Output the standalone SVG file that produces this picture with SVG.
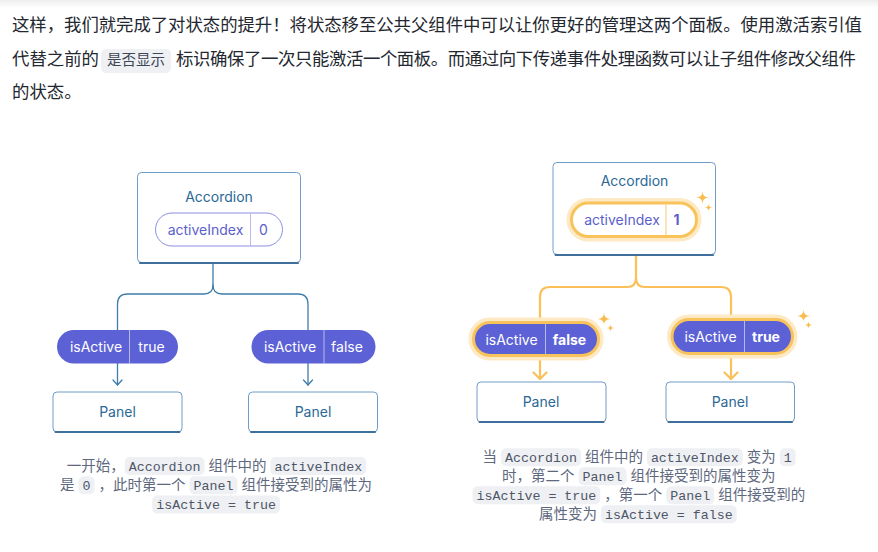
<svg xmlns="http://www.w3.org/2000/svg" width="878" height="552" viewBox="0 0 878 552">
<defs>
  <linearGradient id="topShade" x1="0" y1="0" x2="0" y2="1">
    <stop offset="0" stop-color="#000" stop-opacity="0.07"/>
    <stop offset="1" stop-color="#000" stop-opacity="0"/>
  </linearGradient>
  <path id="spark" d="M0,-1 Q0,0 1,0 Q0,0 0,1 Q0,0 -1,0 Q0,0 0,-1 Z"/>
  <style>
    .para{font-family:"Noto Sans CJK SC","Noto Sans",sans-serif;font-size:17.4px;fill:#23272f}
    .pcode{font-family:"Liberation Mono","Noto Sans CJK SC",monospace;font-size:14.5px;fill:#404756}
    .cap{font-family:"Noto Sans CJK SC","Noto Sans",sans-serif;font-size:14.5px;fill:#5e687e}
    .code{font-family:"Liberation Mono","Noto Sans CJK SC",monospace;font-size:13.3px;fill:#4e5668}
    .cbg{fill:#eef0f3}
    .box{fill:#fff;stroke:#6e9cc8;stroke-width:1}
    .boxb{fill:none;stroke:#3f6f9c;stroke-width:2;stroke-linecap:round}
    .title{font-family:Inter,"Noto Sans",sans-serif;font-size:14px;fill:#2a6896;text-anchor:middle}
    .pillw{fill:#fff;stroke:#8b8fe4;stroke-width:1}
    .ptxt{font-family:Inter,"Noto Sans",sans-serif;font-size:14px;fill:#5b5fcc;text-anchor:middle}
    .pillf{fill:#5c62d6}
    .wtxt{font-family:Inter,"Noto Sans",sans-serif;font-size:14px;fill:#fff;text-anchor:middle}
    .div{stroke:#fff;stroke-opacity:0.55;stroke-width:1}
    .divp{stroke:#b9bbf0;stroke-width:1}
    .divo{stroke:#fbd08a;stroke-width:1.2}
    .glow{fill:none;stroke:#fde9c4;stroke-width:10}
    .ring{stroke:#f9c35c;stroke-width:3}
    .blue{fill:none;stroke:#3d7dab;stroke-width:1.3;stroke-linecap:round;stroke-linejoin:round}
    .orng{fill:none;stroke:#fbc05a;stroke-width:2.2;stroke-linecap:round;stroke-linejoin:round}
    .spark{fill:#f9bd4f}
  </style>
</defs>
<rect x="0" y="0" width="878" height="552" fill="#fff"/>
<rect x="0" y="0" width="878" height="8" fill="url(#topShade)"/>

<!-- paragraph -->
<g id="paragraph">
  <text class="para" x="12" y="31" textLength="850" lengthAdjust="spacing">这样，我们就完成了对状态的提升！将状态移至公共父组件中可以让你更好的管理这两个面板。使用激活索引值</text>
  <text class="para" x="12" y="65">代替之前的</text>
  <rect class="cbg" x="101" y="49" width="70" height="24" rx="5" fill="#f2f3f5"/>
  <text class="pcode" x="107" y="65">是否显示</text>
  <text class="para" x="176" y="65" textLength="680" lengthAdjust="spacing">标识确保了一次只能激活一个面板。而通过向下传递事件处理函数可以让子组件修改父组件</text>
  <text class="para" x="12" y="98">的状态。</text>
</g>

<!-- connectors -->
<g id="connectors">
  <path class="blue" d="M213,264 V285 Q213,294 204,294 H127.5 Q117.5,294 117.5,304 V385"/>
  <path class="blue" d="M213,285 Q213,294 222,294 H298 Q308,294 308,304 V385"/>
  <path class="blue" d="M113,380 L117.5,385 L122,380"/>
  <path class="blue" d="M303.5,380 L308,385 L312.5,380"/>
  <path class="orng" d="M636,256 V278 Q636,287 627,287 H550 Q540,287 540,297 V379"/>
  <path class="orng" d="M636,278 Q636,287 645,287 H721 Q731,287 731,297 V379"/>
  <path class="orng" d="M533.5,372.5 L540,379 L546.5,372.5"/>
  <path class="orng" d="M724.5,372.5 L731,379 L737.5,372.5"/>
</g>

<!-- left diagram -->
<g id="accordion-left">
  <rect class="box" x="137.5" y="172.5" width="163" height="90" rx="4"/>
  <path class="boxb" d="M140,263 H298"/>
  <text class="title" x="219" y="202">Accordion</text>
  <g id="activeIndex-left">
    <rect class="pillw" x="155.5" y="213" width="127" height="33" rx="16.5"/>
    <line class="divp" x1="250.5" y1="213" x2="250.5" y2="246"/>
    <text class="ptxt" x="205.5" y="234.5">activeIndex</text>
    <text class="ptxt" x="263.5" y="234.5">0</text>
  </g>
</g>
<g id="prop-left-true">
  <rect class="pillf" x="57" y="330" width="121" height="33.5" rx="16.75"/>
  <line class="div" x1="129.5" y1="330" x2="129.5" y2="363.5"/>
  <text class="wtxt" x="96" y="352">isActive</text>
  <text class="wtxt" x="151.5" y="352">true</text>
</g>
<g id="prop-left-false">
  <rect class="pillf" x="251.5" y="330" width="124" height="33.5" rx="16.75"/>
  <line class="div" x1="324" y1="330" x2="324" y2="363.5"/>
  <text class="wtxt" x="290" y="352">isActive</text>
  <text class="wtxt" x="347" y="352">false</text>
</g>
<g id="panel-left-1">
  <rect class="box" x="53" y="392" width="129" height="40" rx="4"/>
  <path class="boxb" d="M55.5,432 H179.5"/>
  <text class="title" x="117.5" y="417">Panel</text>
</g>
<g id="panel-left-2">
  <rect class="box" x="248.5" y="392" width="129" height="40" rx="4"/>
  <path class="boxb" d="M251,432 H375"/>
  <text class="title" x="313" y="417">Panel</text>
</g>

<!-- right diagram -->
<g id="accordion-right">
  <rect class="box" x="553" y="162.5" width="162.5" height="92" rx="4"/>
  <path class="boxb" d="M555.5,255 H713"/>
  <text class="title" x="634.5" y="185.5">Accordion</text>
  <g id="activeIndex-right">
    <rect class="glow" x="571.5" y="203" width="125" height="33.5" rx="16.75"/>
    <rect class="ring" fill="#fff" x="571.5" y="203" width="125" height="33.5" rx="16.75"/>
    <line class="divo" x1="666" y1="204.5" x2="666" y2="235"/>
    <text class="ptxt" x="622" y="225">activeIndex</text>
    <text class="ptxt" x="676.5" y="225" font-weight="bold">1</text>
    <use href="#spark" class="spark" transform="translate(702.5,197.5) scale(6.5)"/>
    <use href="#spark" class="spark" transform="translate(708.5,207.5) scale(4)"/>
  </g>
</g>
<g id="prop-right-false">
  <rect class="glow" x="473.5" y="322.5" width="125" height="33" rx="16.5"/>
  <rect class="pillf ring" x="473.5" y="322.5" width="125" height="33" rx="16.5"/>
  <line class="div" x1="545.5" y1="324" x2="545.5" y2="354"/>
  <text class="wtxt" x="511.5" y="344.5">isActive</text>
  <text class="wtxt" x="569.5" y="344.5" font-weight="bold">false</text>
  <use href="#spark" class="spark" transform="translate(604,319) scale(6.5)"/>
  <use href="#spark" class="spark" transform="translate(610.5,328) scale(4)"/>
</g>
<g id="prop-right-true">
  <rect class="glow" x="672" y="319.5" width="120.5" height="34" rx="17"/>
  <rect class="pillf ring" x="672" y="319.5" width="120.5" height="34" rx="17"/>
  <line class="div" x1="744.5" y1="321" x2="744.5" y2="352"/>
  <text class="wtxt" x="710.5" y="341.5">isActive</text>
  <text class="wtxt" x="766" y="341.5" font-weight="bold">true</text>
  <use href="#spark" class="spark" transform="translate(803.5,316) scale(6.5)"/>
  <use href="#spark" class="spark" transform="translate(808.5,325) scale(4)"/>
</g>
<g id="panel-right-1">
  <rect class="box" x="477" y="382" width="129" height="40" rx="4"/>
  <path class="boxb" d="M479.5,422 H603.5"/>
  <text class="title" x="541" y="406.5">Panel</text>
</g>
<g id="panel-right-2">
  <rect class="box" x="666" y="382" width="128.5" height="40" rx="4"/>
  <path class="boxb" d="M668.5,422 H792"/>
  <text class="title" x="730" y="406.5">Panel</text>
</g>

<!-- left caption -->
<g id="caption-left">
  <text class="cap" x="66.7" y="471">一开始，</text>
  <rect class="cbg" x="124.7" y="457" width="79.8" height="18" rx="5"/>
  <text class="code" x="128.7" y="470.5">Accordion</text>
  <text class="cap" x="208.5" y="471">组件中的</text>
  <rect class="cbg" x="270.5" y="457" width="95.8" height="18" rx="5"/>
  <text class="code" x="274.5" y="470.5">activeIndex</text>

  <text class="cap" x="60" y="490.3">是</text>
  <rect class="cbg" x="78.5" y="476.3" width="16" height="18" rx="5"/>
  <text class="code" x="82.5" y="489.8">0</text>
  <text class="cap" x="98.5" y="490.3">，此时第一个</text>
  <rect class="cbg" x="189.5" y="476.3" width="47.9" height="18" rx="5"/>
  <text class="code" x="193.5" y="489.8">Panel</text>
  <text class="cap" x="241.4" y="490.3">组件接受到的属性为</text>

  <rect class="cbg" x="152.2" y="495.6" width="127.7" height="18" rx="5"/>
  <text class="code" x="156.2" y="509.1">isActive = true</text>
</g>

<!-- right caption -->
<g id="caption-right">
  <text class="cap" x="482.6" y="462.3">当</text>
  <rect class="cbg" x="501.1" y="448.3" width="79.8" height="18" rx="5"/>
  <text class="code" x="505.1" y="461.8">Accordion</text>
  <text class="cap" x="584.9" y="462.3">组件中的</text>
  <rect class="cbg" x="646.9" y="448.3" width="95.8" height="18" rx="5"/>
  <text class="code" x="650.9" y="461.8">activeIndex</text>
  <text class="cap" x="746.7" y="462.3">变为</text>
  <rect class="cbg" x="779.7" y="448.3" width="16" height="18" rx="5"/>
  <text class="code" x="783.7" y="461.8">1</text>

  <text class="cap" x="502.1" y="481.3">时，第二个</text>
  <rect class="cbg" x="578.6" y="467.3" width="47.9" height="18" rx="5"/>
  <text class="code" x="582.6" y="480.8">Panel</text>
  <text class="cap" x="630.5" y="481.3">组件接受到的属性变为</text>

  <rect class="cbg" x="472.6" y="486.3" width="127.7" height="18" rx="5"/>
  <text class="code" x="476.6" y="499.8">isActive = true</text>
  <text class="cap" x="604.3" y="500.3">，第一个</text>
  <rect class="cbg" x="666.3" y="486.3" width="47.9" height="18" rx="5"/>
  <text class="code" x="670.3" y="499.8">Panel</text>
  <text class="cap" x="718.2" y="500.3">组件接受到的</text>

  <text class="cap" x="539" y="519.3">属性变为</text>
  <rect class="cbg" x="601" y="505.3" width="135.7" height="18" rx="5"/>
  <text class="code" x="605" y="518.8">isActive = false</text>
</g>
</svg>
